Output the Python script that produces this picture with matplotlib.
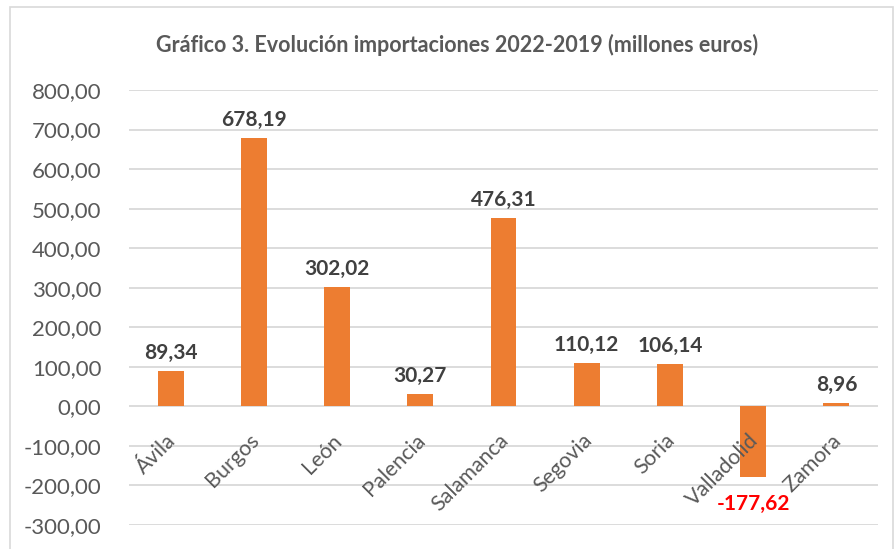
import matplotlib.pyplot as plt
from matplotlib.patches import Rectangle
from matplotlib import transforms

# --- Data ---
provincias = ['Ávila', 'Burgos', 'León', 'Palencia', 'Salamanca',
              'Segovia', 'Soria', 'Valladolid', 'Zamora']
valores = [89.34, 678.19, 302.02, 30.27, 476.31, 110.12, 106.14, -177.62, 8.96]
yticks = [-300, -200, -100, 0, 100, 200, 300, 400, 500, 600, 700, 800]

def fmt(v):
    return f'{v:.2f}'.replace('.', ',')

plt.rcParams['font.family'] = ['Lato', 'DejaVu Sans']

fig = plt.figure(figsize=(8.96, 5.49), dpi=100)
ax = fig.add_axes([129 / 896, 1 - 525 / 549, 749 / 896, 435 / 549])

x = list(range(len(provincias)))
ax.bar(x, valores, width=0.31, color='#ED7D31', zorder=2)

ax.set_xlim(-0.5, len(provincias) - 0.5)
ax.set_ylim(-300, 800)
ax.set_yticks(yticks)
ax.set_yticklabels([fmt(v) for v in yticks], fontsize=16, color='#595959')
ax.tick_params(axis='y', length=0, pad=20)
ax.set_xticks([])
ax.grid(axis='y', color='#D9D9D9', linewidth=1.3, zorder=0)
for s in ax.spines.values():
    s.set_visible(False)

# data labels
for xi, v in zip(x, valores):
    if v >= 0:
        tr = transforms.offset_copy(ax.transData, fig=fig, y=8, units='dots')
        ax.text(xi, v, fmt(v), transform=tr, ha='center', va='bottom',
                fontsize=15, fontweight='bold', color='#404040', zorder=4)
    else:
        tr = transforms.offset_copy(ax.transData, fig=fig, y=-17, units='dots')
        ax.text(xi, v, fmt(v), transform=tr, ha='center', va='top',
                fontsize=15, fontweight='bold', color='#FF0000', zorder=4)

# category labels next to the zero line
tr = transforms.offset_copy(ax.transData, fig=fig, x=2, y=-31, units='dots')
for xi, name in zip(x, provincias):
    ax.text(xi, 0, name, transform=tr, rotation=45, ha='right', va='center',
            rotation_mode='anchor', fontsize=15.5, color='#595959', zorder=3)

fig.text(457 / 896, 1 - 45 / 549,
         'Gráfico 3. Evolución importaciones 2022-2019 (millones euros)',
         ha='center', va='center', fontsize=15.5, fontweight='bold',
         color='#595959')

fig.patches.append(Rectangle((10 / 896, -0.05), 883 / 896, 1 - 7 / 549 + 0.05,
                             transform=fig.transFigure, fill=False,
                             edgecolor='#D9D9D9', linewidth=1.2))

fig.savefig('out.png', dpi=100)
